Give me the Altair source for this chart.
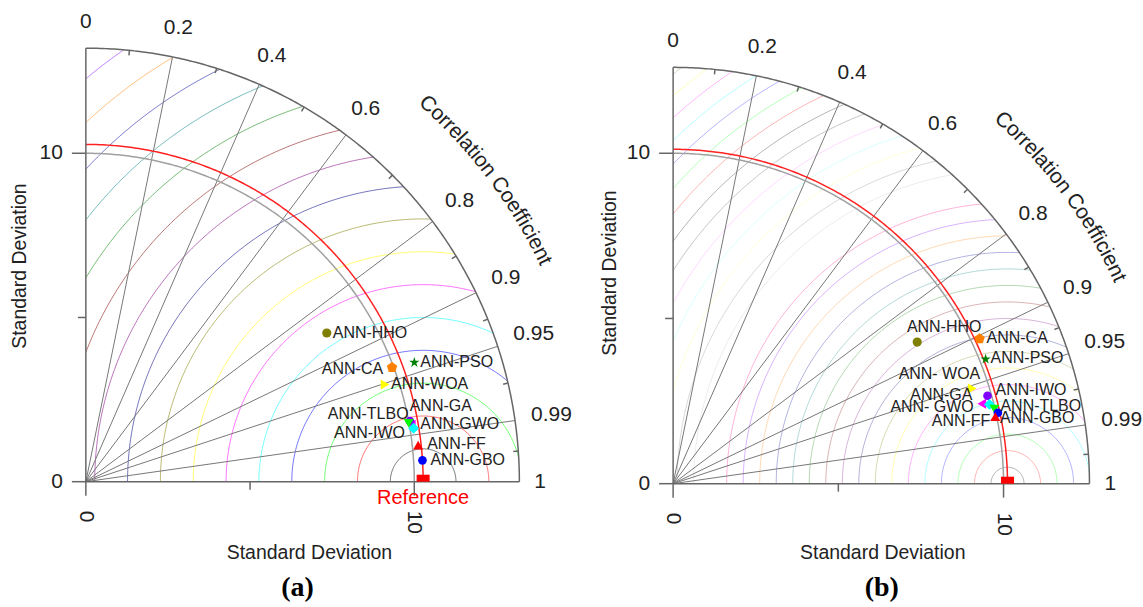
import altair as alt
import numpy as np
import pandas as pd

# ---------------- data ----------------
MODELS = ["ANN-HHO", "ANN-CA", "ANN-PSO", "ANN-WOA", "ANN-GWO",
          "ANN-IWO", "ANN-TLBO", "ANN-GA", "ANN-GBO", "ANN-FF"]
LABELS_A = ["ANN-HHO", "ANN-CA", "ANN-PSO", "ANN-WOA", "ANN-GWO",
            "ANN-IWO", "ANN-TLBO", "ANN-GA", "ANN-GBO", "ANN-FF"]
LABELS_B = ["ANN-HHO", "ANN-CA", "ANN-PSO", "ANN- WOA", "ANN- GWO",
            "ANN-IWO", "ANN-TLBO", "ANN-GA", "ANN-GBO", "ANN-FF"]
STD_A = [8.62, 9.95, 10.64, 9.58, 10.06, 10.04, 10.11, 9.99, 10.27, 10.18]
CORR_A = [0.851, 0.937, 0.940, 0.951, 0.985, 0.983, 0.987, 0.984, 0.998, 0.994]
STD_B = [8.54, 10.26, 10.18, 9.50, 9.65, 9.88, 9.87, 9.98, 10.06, 9.96]
CORR_B = [0.865, 0.904, 0.929, 0.953, 0.968, 0.963, 0.970, 0.974, 0.977, 0.979]
REF_STD_A = 10.27
REF_STD_B = 10.12
MAX_STD_A = 13.2
MAX_STD_B = 12.6
CORR_LINES = [0.2, 0.4, 0.6, 0.8, 0.9, 0.95, 0.99]
CORR_TICKS = [0, 0.2, 0.4, 0.6, 0.8, 0.9, 0.95, 0.99, 1]
CORR_TICK_LABELS = ["0", "0.2", "0.4", "0.6", "0.8", "0.9", "0.95", "0.99", "1"]
STD_TICKS = [0, 5, 10]
STD_TICK_LABELS = ["0", "", "10"]
STD_GRID = [10]
RMS_A = list(range(1, 17))
RMS_B = [0.5 * k for k in range(1, 33)]
TITLE_STD = "Standard Deviation"
TITLE_CORR = "Correlation Coefficient"

# ---------------- styles ----------------
FONT = "Liberation Sans"
TXT = "#222222"
AXC = "#666666"
GRC = "#777777"
ORIGIN_COLORS = ["#000000", "#ff0000", "#00ff00", "#0000ff", "#00ffff", "#ff00ff",
                 "#ffff00", "#808000", "#000080", "#800080", "#800000", "#008000",
                 "#008080", "#0000a0", "#ff8000", "#8000ff", "#ff0080", "#ffffff",
                 "#c0c0c0", "#808080", "#ffff80", "#80ffff", "#ff80ff", "#404040"]
STAR = ("M0,-1L0.2245,-0.309L0.951,-0.309L0.363,0.118L0.588,0.809L0,0.382"
        "L-0.588,0.809L-0.363,0.118L-0.951,-0.309L-0.2245,-0.309Z")
PENTA = "M0,-1L0.951,-0.309L0.588,0.809L-0.588,0.809L-0.951,-0.309Z"
STYLE = {
    "ANN-HHO": ("#808000", "circle", 85),
    "ANN-CA": ("#ff8000", PENTA, 120),
    "ANN-PSO": ("#008000", STAR, 120),
    "ANN-WOA": ("#ffff00", "triangle-right", 100),
    "ANN-GWO": ("#ff00ff", "triangle-left", 100),
    "ANN-IWO": ("#8000ff", "circle", 75),
    "ANN-TLBO": ("#00ffff", "diamond", 120),
    "ANN-GA": ("#00ff00", "triangle-down", 100),
    "ANN-GBO": ("#0000ff", "circle", 75),
    "ANN-FF": ("#ff0000", "triangle-up", 100),
}
# label offsets in pixels (dx right, dy down) and alignment
OFFS_A = {
    "ANN-HHO": (6, 0, "left"), "ANN-CA": (-9, 1, "right"), "ANN-PSO": (6, 0, "left"),
    "ANN-WOA": (6, 0, "left"), "ANN-GWO": (9, -1, "left"), "ANN-IWO": (-5, 12, "right"),
    "ANN-TLBO": (-5, -14, "right"), "ANN-GA": (1, -17, "left"), "ANN-GBO": (8, 0, "left"),
    "ANN-FF": (9, -1, "left"),
}
OFFS_B = {
    "ANN-HHO": (27, -15, "center"), "ANN-CA": (7, -1, "left"), "ANN-PSO": (5, -1, "left"),
    "ANN-WOA": (8, -15, "right"), "ANN-GWO": (-8, 3, "right"), "ANN-IWO": (8, -6, "left"),
    "ANN-TLBO": (11, 2, "left"), "ANN-GA": (-22, -14, "right"), "ANN-GBO": (2, 5, "left"),
    "ANN-FF": (-5, 4, "right"),
}
CHAR_W = {'C': .722, 'o': .556, 'r': .333, 'e': .556, 'l': .222, 'a': .556, 't': .278,
          'i': .222, 'n': .556, ' ': .278, 'f': .278, 'c': .5, '.': .278}


def txt_w(t, fs):
    return sum(CHAR_W.get(ch, .556) for ch in t) * fs


def panel(tag, labels, std, corr, ref, rmax, rms, rms_step, rms_alpha, geom, offs, tgeom):
    W, H, ox, oy, s = geom
    xs = alt.Scale(domain=[-ox / s, (W - ox) / s], nice=False, zero=False)
    ys = alt.Scale(domain=[-(H - oy) / s, oy / s], nice=False, zero=False)

    def X(f):
        return alt.X(f, type="quantitative", scale=xs, axis=None)

    def Y(f):
        return alt.Y(f, type="quantitative", scale=ys, axis=None)

    layers = []

    # centred RMS arcs
    rows = []
    for r in rms:
        c1 = (rmax ** 2 - ref ** 2 - r ** 2) / (2 * ref * r)
        c2 = -ref / r
        p0 = np.arccos(np.clip(c1, -1, 1))
        p1 = np.arccos(np.clip(c2, -1, 1))
        if p1 <= p0:
            continue
        k = int(round(r / rms_step))
        col = ORIGIN_COLORS[(k - 1) % 24]
        for i, p in enumerate(np.linspace(p0, p1, 200)):
            rows.append({"x": ref + r * np.cos(p), "y": r * np.sin(p), "g": f"r{r}", "o": i, "c": col})
    layers.append(alt.Chart(pd.DataFrame(rows)).mark_line(strokeWidth=1, opacity=rms_alpha).encode(
        x=X("x"), y=Y("y"), detail="g:N", order="o:Q", color=alt.Color("c:N", scale=None)))

    # radial correlation lines
    rl = pd.DataFrame({"c": CORR_LINES})
    rl["x"] = 0.0
    rl["y"] = 0.0
    rl["x2"] = rmax * rl["c"]
    rl["y2"] = rmax * np.sqrt(1 - rl["c"] ** 2)
    layers.append(alt.Chart(rl).mark_rule(color=GRC, strokeWidth=1).encode(
        x=X("x"), y=Y("y"), x2="x2", y2="y2"))

    def quarter(r, g):
        t = np.linspace(0, np.pi / 2, 240)
        return pd.DataFrame({"x": r * np.cos(t), "y": r * np.sin(t), "o": np.arange(240), "g": g})

    # std grid arc, reference arc, outer arc
    grid = pd.concat([quarter(v, f"s{v}") for v in STD_GRID])
    layers.append(alt.Chart(grid).mark_line(color="#a0a0a0", strokeWidth=1.5).encode(
        x=X("x"), y=Y("y"), detail="g:N", order="o:Q"))
    layers.append(alt.Chart(quarter(ref, "ref")).mark_line(color="#ff2020", strokeWidth=1.5).encode(
        x=X("x"), y=Y("y"), order="o:Q"))
    layers.append(alt.Chart(quarter(rmax, "out")).mark_line(color=AXC, strokeWidth=1.5).encode(
        x=X("x"), y=Y("y"), order="o:Q"))

    # axis lines and ticks
    seg = [{"x": 0, "y": 0, "x2": 0, "y2": rmax}, {"x": 0, "y": 0, "x2": rmax, "y2": 0}]
    for t, lab in zip(STD_TICKS, STD_TICK_LABELS):
        ln = (14 if lab else 8) / s
        seg.append({"x": -ln, "y": t, "x2": 0, "y2": t})
        seg.append({"x": t, "y": -ln, "x2": t, "y2": 0})
    ang = [np.arccos(c) for c in CORR_TICKS]
    for a0, a1 in zip(ang[:-1], ang[1:]):
        m = 0.5 * (a0 + a1)
        r0 = rmax - 5 / s
        seg.append({"x": r0 * np.cos(m), "y": r0 * np.sin(m), "x2": rmax * np.cos(m), "y2": rmax * np.sin(m)})
    layers.append(alt.Chart(pd.DataFrame(seg)).mark_rule(color=AXC, strokeWidth=1.5).encode(
        x=X("x"), y=Y("y"), x2="x2", y2="y2"))

    # reference marker
    rdf = pd.DataFrame({"x": [ref - 6.5 / s], "x2": [ref + 6.5 / s], "y": [0.0], "y2": [7 / s]})
    layers.append(alt.Chart(rdf).mark_rect(color="#ff0000").encode(
        x=X("x"), x2="x2", y=Y("y"), y2="y2"))

    # model points
    pts = pd.DataFrame({"model": MODELS, "label": labels, "std": std, "corr": corr})
    pts["sz"] = [STYLE[m][2] for m in MODELS]
    pts["dx"] = [offs[m][0] for m in MODELS]
    pts["dy"] = [offs[m][1] for m in MODELS]
    pts["al"] = [offs[m][2] for m in MODELS]
    base = alt.Chart(pts).transform_calculate(
        px="datum.std*datum.corr",
        py="datum.std*sqrt(1-datum.corr*datum.corr)")
    layers.append(base.mark_point(filled=True, opacity=1, strokeWidth=0.5).encode(
        x=X("px"), y=Y("py"),
        shape=alt.Shape("model:N", scale=alt.Scale(domain=MODELS, range=[STYLE[m][1] for m in MODELS]), legend=None),
        color=alt.Color("model:N", scale=alt.Scale(domain=MODELS, range=[STYLE[m][0] for m in MODELS]), legend=None),
        size=alt.Size("sz:Q", scale=None)))
    for al in ["left", "right", "center"]:
        layers.append(base.transform_calculate(
            lx=f"datum.px + datum.dx/{s}", ly=f"datum.py - datum.dy/{s}"
        ).transform_filter(alt.datum.al == al).mark_text(
            font=FONT, fontSize=16, align=al, baseline="middle", color=TXT).encode(
            x=X("lx"), y=Y("ly"), text="label:N"))

    # correlation tick labels
    cl = []
    for c, lab in zip(CORR_TICKS, CORR_TICK_LABELS):
        th = np.arccos(c)
        w = txt_w(lab, 21)
        d = 15 + 4 * np.sin(th) + 0.5 * w * abs(np.cos(th)) + 7.5 * np.sin(th)
        rr = rmax + d / s
        cl.append({"x": rr * np.cos(th), "y": rr * np.sin(th), "t": lab})
    layers.append(alt.Chart(pd.DataFrame(cl)).mark_text(
        font=FONT, fontSize=21, align="center", baseline="middle", color=TXT).encode(
        x=X("x"), y=Y("y"), text="t:N"))

    # std tick labels
    sl = pd.DataFrame({"v": STD_TICKS, "t": STD_TICK_LABELS})
    sl = sl[sl["t"] != ""].copy()
    sl["lx"] = -23 / s
    sl["by"] = -29 / s
    layers.append(alt.Chart(sl).mark_text(font=FONT, fontSize=21, align="right", baseline="middle", color=TXT).encode(
        x=X("lx"), y=Y("v"), text="t:N"))
    layers.append(alt.Chart(sl).mark_text(font=FONT, fontSize=21, align="left", baseline="middle", angle=90,
                                          color=TXT).encode(x=X("v"), y=Y("by"), text="t:N"))

    # titles
    bx, by, lx, ly, tx, ty = tgeom["pos"]
    tt = pd.DataFrame({"x": [bx / s], "y": [by / s], "t": [TITLE_STD]})
    layers.append(alt.Chart(tt).mark_text(font=FONT, fontSize=19.5, align="center", baseline="middle",
                                          color=TXT).encode(x=X("x"), y=Y("y"), text="t:N"))
    vt = pd.DataFrame({"x": [lx / s], "y": [ly / s], "t": [TITLE_STD]})
    layers.append(alt.Chart(vt).mark_text(font=FONT, fontSize=19.5, align="center", baseline="middle", angle=270,
                                          color=TXT).encode(x=X("x"), y=Y("y"), text="t:N"))
    pt = pd.DataFrame({"x": [tx / s], "y": [ty / s], "t": [tag]})
    layers.append(alt.Chart(pt).mark_text(font="Liberation Serif", fontSize=28, fontWeight="bold",
                                          align="center", baseline="middle", color="#000000").encode(
        x=X("x"), y=Y("y"), text="t:N"))

    # curved correlation title
    R = tgeom["r"]
    Rpx = R * s
    fs = 21
    adv = [CHAR_W.get(ch, .556) * fs for ch in TITLE_CORR]
    centers = np.cumsum(adv) - np.array(adv) / 2
    L = sum(adv)
    th_c = np.radians(tgeom["theta"])
    ch_rows = []
    for ch, cpos in zip(TITLE_CORR, centers):
        th = th_c + (L / 2 - cpos) / Rpx
        ch_rows.append({"x": R * np.cos(th), "y": R * np.sin(th), "ch": ch, "a": 90 - np.degrees(th)})
    layers.append(alt.Chart(pd.DataFrame(ch_rows)).mark_text(
        font=FONT, fontSize=fs, align="center", baseline="middle", color=TXT).encode(
        x=X("x"), y=Y("y"), text="ch:N", angle=alt.Angle("a:Q", scale=None)))

    if tgeom.get("reftext"):
        rt = pd.DataFrame({"x": [ref], "y": [-16 / s], "t": ["Reference"]})
        layers.append(alt.Chart(rt).mark_text(font=FONT, fontSize=20, align="center", baseline="middle",
                                              color="#ff0000").encode(x=X("x"), y=Y("y"), text="t:N"))

    return alt.layer(*layers).properties(width=W, height=H)


pa = panel("(a)", LABELS_A, STD_A, CORR_A, REF_STD_A, MAX_STD_A, RMS_A, 1.0, 0.55,
           (571, 607, 86, 482, 32.9), OFFS_A,
           {"pos": (224, -71, -66, 216, 212, -107), "r": 15.5, "theta": 37.0, "reftext": True})
pb = panel("(b)", LABELS_B, STD_B, CORR_B, REF_STD_B, MAX_STD_B, RMS_B, 0.5, 0.3,
           (572, 607, 101.3, 484, 33.1), OFFS_B,
           {"pos": (210, -69, -63, 211, 209, -105), "r": 14.85, "theta": 36.5, "reftext": False})

chart = alt.hconcat(pa, pb, spacing=0).properties(padding=0).configure_view(stroke=None)
chart.save("out.html", embed_options={"renderer": "svg", "actions": False})
